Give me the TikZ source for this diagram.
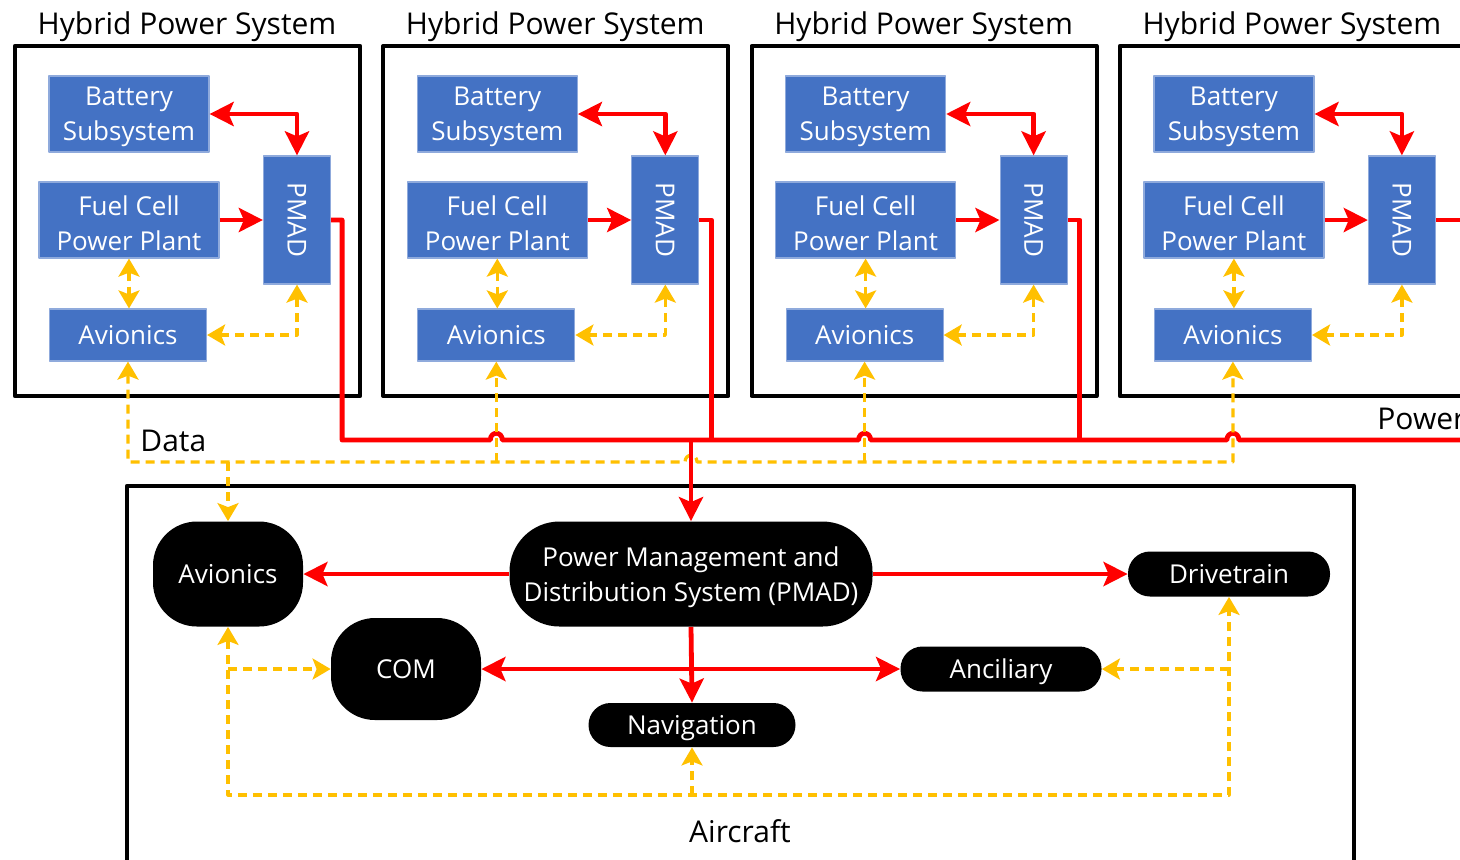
\documentclass[tikz,border=0pt]{standalone}
\usepackage{fontspec}
\setmainfont{Open Sans}
\usetikzlibrary{arrows.meta,calc}
\definecolor{boxblue}{HTML}{4472C4}
\definecolor{boxedge}{HTML}{8FAADC}
\definecolor{pred}{HTML}{FF0000}
\definecolor{dyel}{HTML}{FFC000}
\newcommand{\lowtext}[2]{\raisebox{-1.5pt}[\height][\depth]{\parbox{#1}{\centering #2}}}
\begin{document}
\begin{tikzpicture}[x=0.5pt,y=-0.5pt,line join=round,
  blk/.style={fill=boxblue,draw=boxedge,line width=0.6pt,text=white,align=center,inner sep=0pt,font=\fontsize{13}{17.5}\selectfont},
  acn/.style={fill=black,text=white,align=center,inner sep=0pt,rounded corners=#1,font=\fontsize{13}{17.5}\selectfont},
  one/.style={text height=11pt,text depth=1.7pt},
  ttl/.style={font=\fontsize{15}{18}\selectfont,inner sep=0pt},
  sysbox/.style={draw=black,line width=2.1pt},
  pw/.style={draw=pred,line width=2.4pt},
  pwa/.style={pw,-{Stealth[length=12pt,width=12pt,inset=2.5pt]}},
  pwb/.style={pw,{Stealth[length=12pt,width=12pt,inset=2.5pt]}-{Stealth[length=12pt,width=12pt,inset=2.5pt]}},
  dat/.style={draw=dyel,line width=1.6pt,dash pattern=on 4.5pt off 3pt},
  data/.style={dat,-{Stealth[length=9pt,width=10.5pt,inset=2pt]}},
  datb/.style={dat,{Stealth[length=9pt,width=10.5pt,inset=2pt]}-{Stealth[length=9pt,width=10.5pt,inset=2pt]}}
]
\useasboundingbox (0,0) rectangle (1460,859);
\clip (0,0) rectangle (1460,859);
\fill[white] (0,0) rectangle (1460,859);

% Hybrid power systems
\foreach \i in {0,1,2,3}{
  \pgfmathsetmacro\o{368.3*\i}
  \draw[sysbox] (15+\o,46) rectangle (360+\o,396);
  \node[ttl] (ttl\i) at (187+\o,27) {Hybrid Power System};
  \node[blk,minimum width=80pt,minimum height=38pt] (bat\i) at (129+\o,114) {\lowtext{80pt}{Battery\\Subsystem}};
  \node[blk,minimum width=90pt,minimum height=38pt] (fc\i) at (129+\o,220) {\lowtext{90pt}{Fuel Cell\\Power Plant}};
  \node[blk,one,minimum width=78.5pt,minimum height=26pt] (av\i) at (128+\o,335) {Avionics};
  \node[blk,minimum width=33.5pt,minimum height=64pt,label={[rotate=-90,text=white,font=\fontsize{13}{17.5}\selectfont]center:PMAD}] (pm\i) at (297+\o,220) {};
  \draw[pwb] (bat\i.east) -| (pm\i.north);
  \draw[pwa] (fc\i.east) -- (pm\i.west);
  \draw[datb] (fc\i.south) -- (fc\i.south |- av\i.north);
  \draw[datb] (av\i.east) -| (pm\i.south);
}

% labels
\node[ttl,anchor=west] (datalbl) at (140,441) {Data};
\node[ttl,anchor=west] (powlbl) at (1377,419) {Power};

% power bus
\foreach \j in {1,2,3}{
  \coordinate (h\j l) at ($(av\j.south |- 0,440)+(-6,0)$);
  \coordinate (h\j r) at ($(av\j.south |- 0,440)+(6,0)$);
}
\coordinate (busend) at (1470,440);
\draw[pw] (pm0.east) -- ++(11,0) |- (h1l) .. controls +(0,-9) and +(0,-9) .. (h1r)
  -- (h2l) .. controls +(0,-9) and +(0,-9) .. (h2r)
  -- (h3l) .. controls +(0,-9) and +(0,-9) .. (h3r) -- (busend);
\draw[pw] (pm1.east) -- ++(12,0) -- ++(0,220);
\draw[pw] (pm2.east) -- ++(12,0) -- ++(0,220);
\draw[pw] (pm3.east) -- ++(40,0);

% Aircraft
\draw[sysbox] (127,486) rectangle (1354,900);
\node[ttl] (aclbl) at (740,831) {Aircraft};
\node[acn=22pt,one,minimum width=75pt,minimum height=52.5pt] (acav) at (228,574) {Avionics};
\node[acn=25pt,minimum width=181.5pt,minimum height=52.5pt] (acp) at (691,574) {\lowtext{181pt}{Power Management and\\Distribution System (PMAD)}};
\node[acn=11pt,one,minimum width=101pt,minimum height=22.5pt] (drv) at (1229,574) {Drivetrain};
\node[acn=22pt,one,minimum width=75pt,minimum height=51pt] (com) at (406,669) {COM};
\node[acn=11pt,one,minimum width=100.5pt,minimum height=22.5pt] (anc) at (1001,669) {Anciliary};
\node[acn=11pt,one,minimum width=103.5pt,minimum height=22pt] (nav) at (692,725) {Navigation};

% data bus
\coordinate (yhl) at ($(acp.north |- 0,462)+(-6,0)$);
\coordinate (yhr) at ($(acp.north |- 0,462)+(6,0)$);
\draw[datb] (av0.south) |- (yhl) .. controls +(0,-9) and +(0,-9) .. (yhr) -| (av3.south);
\draw[data] (av1.south |- 0,462) -- (av1.south);
\draw[data] (av2.south |- 0,462) -- (av2.south);
\draw[data] (acav.north |- 0,462) -- (acav.north);

% power into aircraft
\draw[pwa] (acp.north |- 0,440) -- (acp.north);
\draw[pwa] (acp.west) -- (acav.east);
\draw[pwa] (acp.east) -- (drv.west);
\draw[pwa] (acp.south) -- (nav.north);
\draw[pwb] (com.east) -- (anc.west);

% aircraft data
\coordinate (dl) at (acav.south |- 0,795);
\draw[datb] (acav.south) -- (dl) -| (drv.south);
\draw[data] (acav.south |- com.west) -- (com.west);
\draw[data] (nav.south |- 0,795) -- (nav.south);
\draw[data] (drv.south |- anc.east) -- (anc.east);
\end{tikzpicture}
\end{document}
